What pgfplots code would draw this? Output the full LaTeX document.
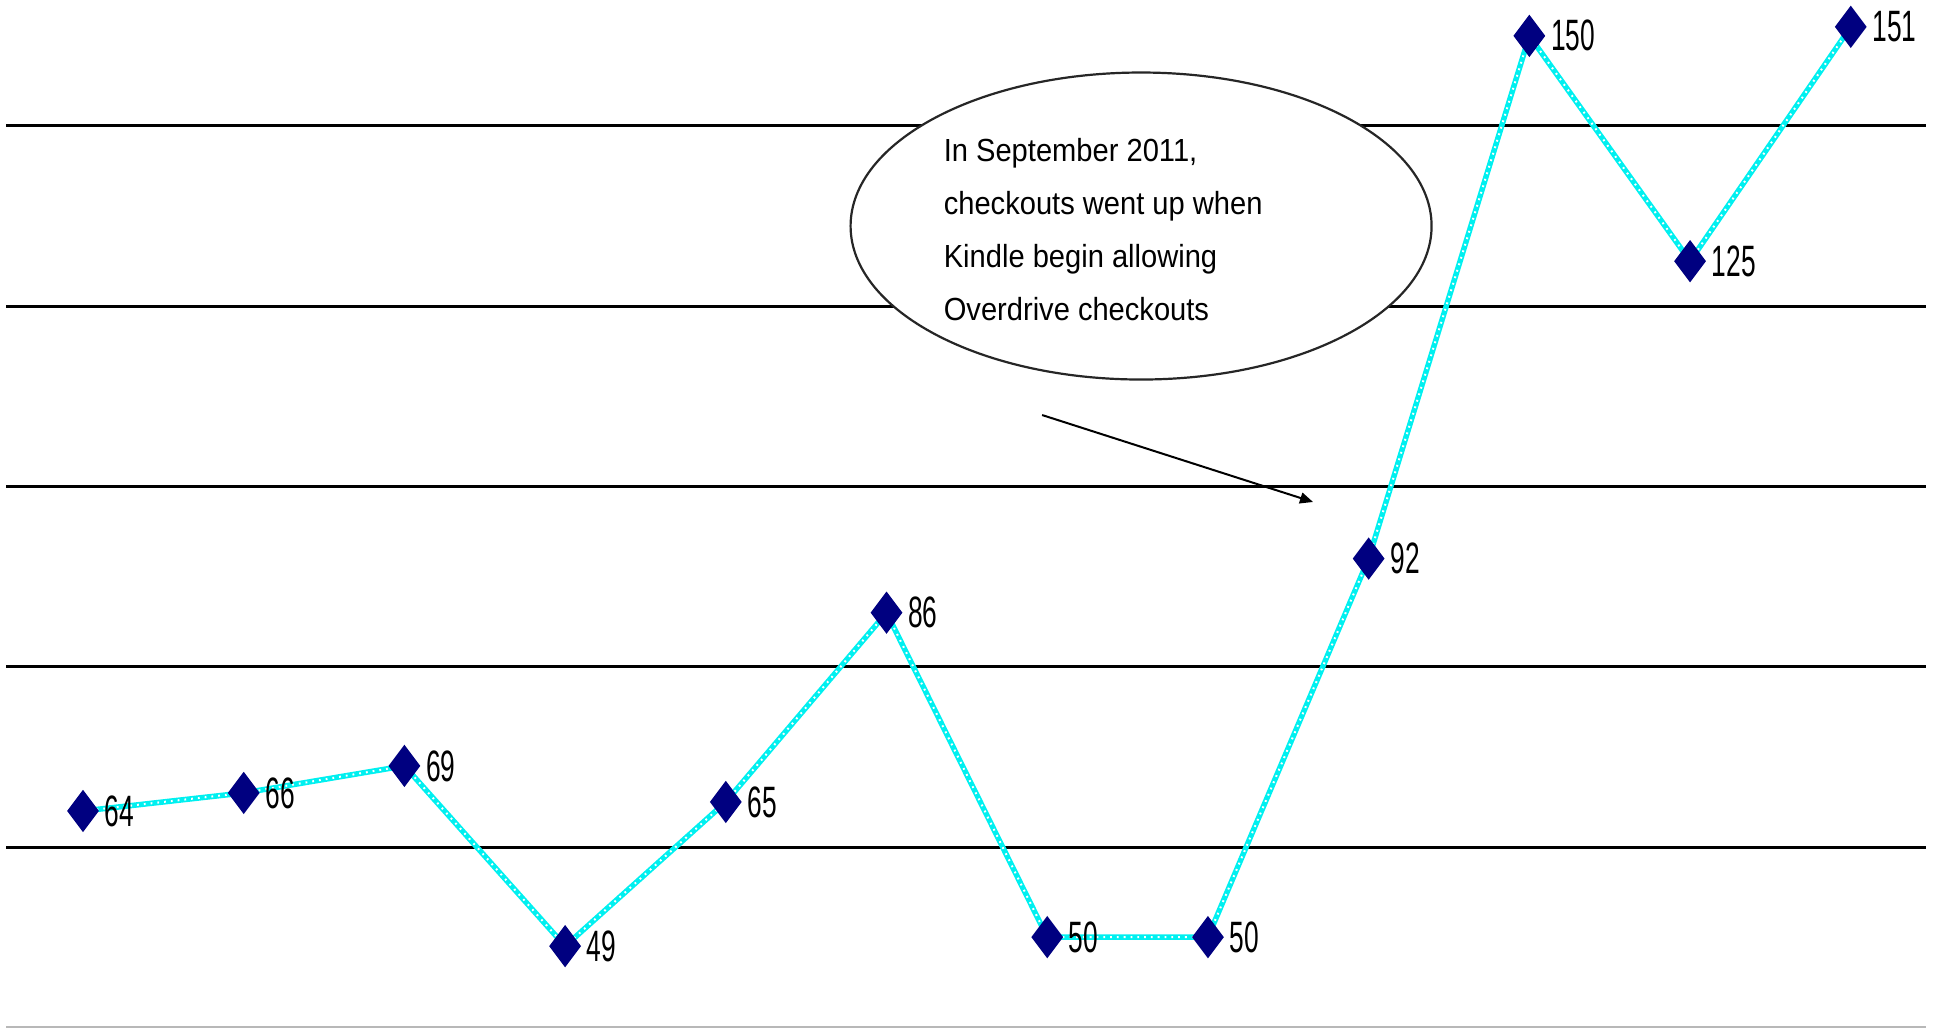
\documentclass[border=0pt]{standalone}
\usepackage{fontspec}
\usepackage{pgfplots}
\pgfplotsset{compat=1.18}
\usepackage{pgfplotstable}
\usetikzlibrary{arrows.meta}
\newfontfamily\labelfont[FakeStretch=0.6]{Liberation Sans}
\newfontfamily\notefont[FakeStretch=0.91]{Liberation Sans}
\definecolor{beadcyan}{HTML}{00F0F0}
\definecolor{marknavy}{HTML}{000080}

\pgfplotstableread{
x y
0 64
1 66
2 69
3 49
4 65
5 86
6 50
7 50
8 92
9 150
10 125
11 151
}\checkouts

\begin{document}
\begin{tikzpicture}
\begin{axis}[
    width=19.38cm, height=10.28cm,
    scale only axis,
    hide axis,
    clip=false,
    xmin=-0.5165, xmax=11.543,
    ymin=39.92, ymax=153.98,
    /pgf/number format/assume math mode=true,
]
% horizontal rules
\draw[black, line width=0.03cm] (axis cs:-0.479,60) -- (axis cs:11.468,60);
\draw[black, line width=0.03cm] (axis cs:-0.479,80) -- (axis cs:11.468,80);
\draw[black, line width=0.03cm] (axis cs:-0.479,100) -- (axis cs:11.468,100);
\draw[black, line width=0.03cm] (axis cs:-0.479,120) -- (axis cs:11.468,120);
\draw[black, line width=0.03cm] (axis cs:-0.479,140) -- (axis cs:11.468,140);
\draw[black!28, line width=0.02cm] (axis cs:-0.479,40.03) -- (axis cs:11.468,40.03);

% callout
\draw[black!85, fill=white, line width=0.022cm] (axis cs:6.584,128.9) ellipse [x radius=2.905cm, y radius=1.535cm];
\node[anchor=north west, inner sep=0pt, align=left,
      font=\notefont\fontsize{9.1}{15}\selectfont]
  at (axis cs:5.352,138.67)
  {In September 2011,\\checkouts went up when\\Kindle begin allowing\\Overdrive checkouts};
\draw[black, line width=0.02cm, -{Triangle[length=0.13cm, width=0.11cm]}]
  (axis cs:5.968,107.93) -- (axis cs:7.654,98.28);

% beaded cyan line
\addplot[beadcyan, line width=0.055cm, no marks] table[x=x, y=y] {\checkouts};
\addplot[white, line width=0.02cm, dash pattern=on 0.018cm off 0.05cm, no marks] table[x=x, y=y] {\checkouts};

% markers and labels
\addplot[only marks, mark=diamond*, mark size=0.2cm,
    mark options={fill=marknavy, draw=marknavy},
    nodes near coords,
    every node near coord/.append style={anchor=west, xshift=0.21cm, inner sep=0pt,
        text=black, font=\labelfont\fontsize{12.5}{15}\selectfont},
] table[x=x, y=y] {\checkouts};
\end{axis}
\pgfresetboundingbox
\path (current axis.south west) rectangle (current axis.north east);
\end{tikzpicture}
\end{document}
